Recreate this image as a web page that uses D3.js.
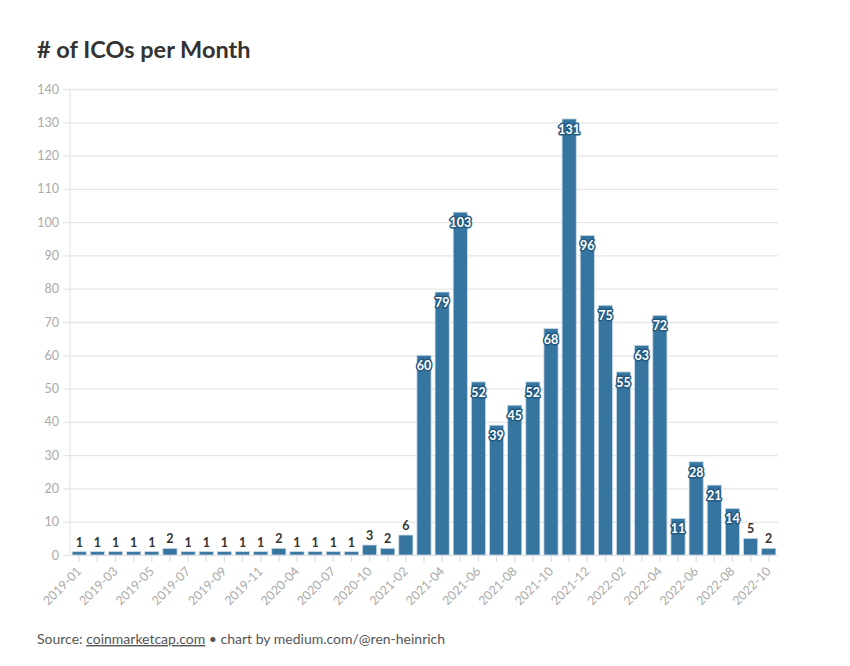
<!DOCTYPE html>
<html><head><meta charset="utf-8">
<script src="https://cdn.jsdelivr.net/npm/d3@7"></script>
<style>
body{margin:0;background:#fff;font-family:Lato,"Noto Sans",sans-serif;}
</style></head><body>
<svg id="c" width="850" height="666"></svg>
<script>
const months = ["2019-01","2019-02","2019-03","2019-04","2019-05","2019-06","2019-07","2019-08","2019-09","2019-10","2019-11","2019-12","2020-04","2020-05","2020-07","2020-08","2020-10","2020-12","2021-02","2021-03","2021-04","2021-05","2021-06","2021-07","2021-08","2021-09","2021-10","2021-11","2021-12","2022-01","2022-02","2022-03","2022-04","2022-05","2022-06","2022-07","2022-08","2022-09","2022-10"];
const icoCounts = [1,1,1,1,1,2,1,1,1,1,1,2,1,1,1,1,3,2,6,60,79,103,52,39,45,52,68,131,96,75,55,63,72,11,28,21,14,5,2];
const yTicks = [0,10,20,30,40,50,60,70,80,90,100,110,120,130,140];

const svg = d3.select("#c");
const x = d3.scaleBand().domain(months).range([70,778]).paddingInner(0.22).paddingOuter(0.12);
const y = d3.scaleLinear().domain([0,140]).range([555,89]);

svg.append("text").attr("x",37).attr("y",58).attr("font-size",23.5).attr("font-weight",700)
  .attr("fill","#333").text("# of ICOs per Month");

// grid
const gy = svg.append("g").attr("transform","translate(70,0)")
  .call(d3.axisLeft(y).tickValues(yTicks).tickSize(-708).tickPadding(11));
gy.select(".domain").remove();
gy.selectAll(".tick line").attr("stroke","#e6e6e6").attr("stroke-width",1.3).attr("x1",-7);
gy.selectAll(".tick text").attr("fill","#aaa").attr("font-size",12.5).attr("font-family","Lato,sans-serif");

svg.append("line").attr("x1",70).attr("x2",70).attr("y1",89).attr("y2",555).attr("stroke","#e6e6e6").attr("stroke-width",1.3);

// x axis
const gx = svg.append("g").attr("transform","translate(0,555)")
  .call(d3.axisBottom(x).tickSize(7).tickFormat((d,i)=> i%2===0 ? d : ""));
gx.select(".domain").remove();
gx.selectAll(".tick line").attr("stroke","#e0e0e0").attr("stroke-width",1.3);
gx.selectAll(".tick text").attr("fill","#aaa").attr("font-size",12.5).attr("font-family","Lato,sans-serif")
  .attr("text-anchor","end").attr("x",0).attr("y",0).attr("dy",0)
  .attr("transform","translate(3,17) rotate(-45)");

// bars
svg.append("g").selectAll("rect").data(icoCounts).join("rect")
  .attr("x",(d,i)=>x(months[i])).attr("width",x.bandwidth())
  .attr("y",d=>y(d)).attr("height",d=>y(0)-y(d))
  .attr("fill","#3675a0").attr("stroke","#c8d9e6").attr("stroke-width",0.8);

// labels
const lg = svg.append("g").attr("font-weight",700).attr("font-size",12.5).attr("text-anchor","middle")
  .attr("font-family","Lato,sans-serif");
icoCounts.forEach((d,i)=>{
  const cx = x(months[i]) + x.bandwidth()/2;
  if (d >= 10) {
    lg.append("text").attr("x",cx).attr("y",y(d)+15).attr("fill","#fff")
      .attr("stroke","#245a80").attr("stroke-width",3).attr("paint-order","stroke").attr("stroke-linejoin","round").text(d);
  } else {
    lg.append("text").attr("x",cx).attr("y",y(d)-5).attr("fill","#333").text(d);
  }
});

// footer
const f = svg.append("text").attr("x",37).attr("y",644).attr("font-size",14).attr("fill","#555");
f.append("tspan").text("Source: ");
f.append("tspan").attr("text-decoration","underline").text("coinmarketcap.com");
f.append("tspan").text(" • chart by medium.com/@ren-heinrich");
</script></body></html>
